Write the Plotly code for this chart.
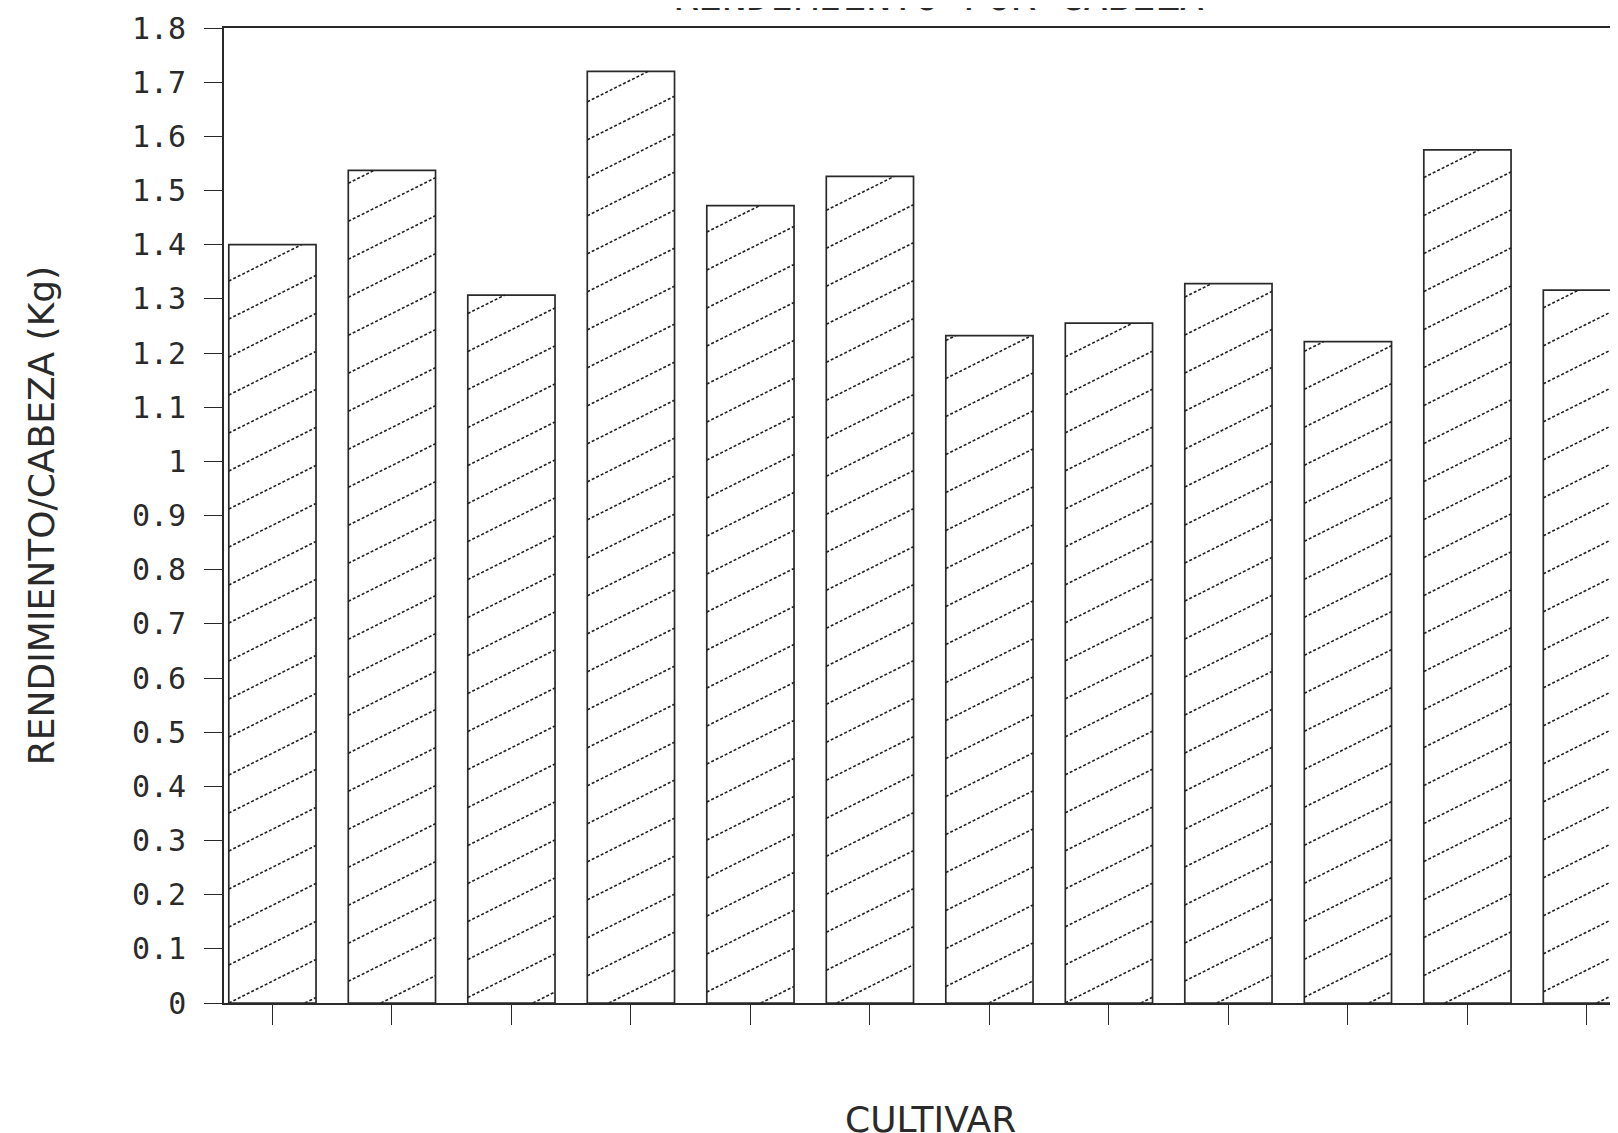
import plotly.graph_objects as go

# Data
cultivar_index = list(range(1, 13))
rendimiento_kg = [1.40, 1.537, 1.307, 1.72, 1.472, 1.526, 1.232, 1.255, 1.328, 1.221, 1.575, 1.316]
y_tickvals = [0, 0.1, 0.2, 0.3, 0.4, 0.5, 0.6, 0.7, 0.8, 0.9, 1.0, 1.1, 1.2, 1.3, 1.4, 1.5, 1.6, 1.7, 1.8]
y_ticktext = ["0", "0.1", "0.2", "0.3", "0.4", "0.5", "0.6", "0.7", "0.8", "0.9", "1",
              "1.1", "1.2", "1.3", "1.4", "1.5", "1.6", "1.7", "1.8"]

title_text = "RENDIMIENTO POR CABEZA"
y_title = "RENDIMIENTO/CABEZA (Kg)"
x_title = "CULTIVAR"

ink = "#2a2a2a"

# figure geometry (page has an 8px body margin)
W, H = 1610, 1125
ML, MR, MT, MB = 216, 0, 20, 130
X_RANGE = [0.595, 12.26]
Y_RANGE = [0, 1.8]
BARGAP = 0.27

fig = go.Figure()
fig.add_trace(go.Bar(
    x=cultivar_index,
    y=rendimiento_kg,
    marker=dict(color="white", line=dict(color=ink, width=1.7)),
    showlegend=False,
    hoverinfo="x+y",
))

# shallow "/" hatching inside each bar, derived from the bar values
px_per_x = (W - ML - MR) / (X_RANGE[1] - X_RANGE[0])
px_per_y = (H - MT - MB) / (Y_RANGE[1] - Y_RANGE[0])
slope = 0.5 * px_per_x / px_per_y       # data units of y per unit of x
spacing = 38.0 / px_per_y               # vertical spacing of hatch lines
half_w = (1 - BARGAP) / 2
hx, hy = [], []
for xc, v in zip(cultivar_index, rendimiento_kg):
    left, right = xc - half_w, xc + half_w
    k_min = int((0 - slope * right) / spacing) - 1
    k_max = int((v - slope * left) / spacing) + 1
    for k in range(k_min, k_max + 1):
        b = k * spacing
        xs = max(left, (0 - b) / slope)
        xe = min(right, (v - b) / slope)
        if xe - xs > 1e-6:
            hx += [xs, xe, None]
            hy += [b + slope * xs, b + slope * xe, None]

fig.add_trace(go.Scatter(
    x=hx, y=hy, mode="lines",
    line=dict(color="#222222", width=1.6, dash="3px,2px"),
    showlegend=False, hoverinfo="skip",
))

plot_w = W - ML - MR
fig.update_layout(
    width=W, height=H,
    margin=dict(l=ML, r=MR, t=MT, b=MB, autoexpand=False),
    paper_bgcolor="white", plot_bgcolor="white",
    bargap=BARGAP,
    font=dict(family="DejaVu Sans Mono", color=ink),
    xaxis=dict(
        range=X_RANGE,
        tickvals=cultivar_index,
        showticklabels=False,
        ticks="outside", ticklen=20, tickwidth=1.3, tickcolor=ink,
        showline=True, linecolor=ink, linewidth=1.6, mirror=True,
        showgrid=False, zeroline=False, automargin=False,
    ),
    yaxis=dict(
        range=Y_RANGE,
        tickvals=y_tickvals, ticktext=y_ticktext,
        ticks="outside", ticklen=18, tickwidth=1.3, tickcolor=ink,
        tickfont=dict(family="DejaVu Sans Mono", size=30, color=ink),
        ticklabelstandoff=12,
        showline=True, linecolor=ink, linewidth=1.6,
        showgrid=False, zeroline=False, automargin=False,
        title=dict(text=y_title, font=dict(family="DejaVu Sans", size=36, color=ink), standoff=66),
    ),
    annotations=[
        dict(
            text=title_text, xref="paper", yref="paper",
            x=(939 - 8 - ML) / plot_w, y=1,
            xanchor="center", yanchor="bottom", yshift=7, showarrow=False,
            font=dict(family="DejaVu Sans Mono", size=40, color=ink),
        ),
        dict(
            text=x_title, xref="paper", yref="paper",
            x=(930 - 8 - ML) / plot_w, y=0,
            xanchor="center", yanchor="top", yshift=-94, showarrow=False,
            font=dict(family="DejaVu Sans", size=36, color=ink),
        ),
    ],
)

fig.write_html("out.html")
